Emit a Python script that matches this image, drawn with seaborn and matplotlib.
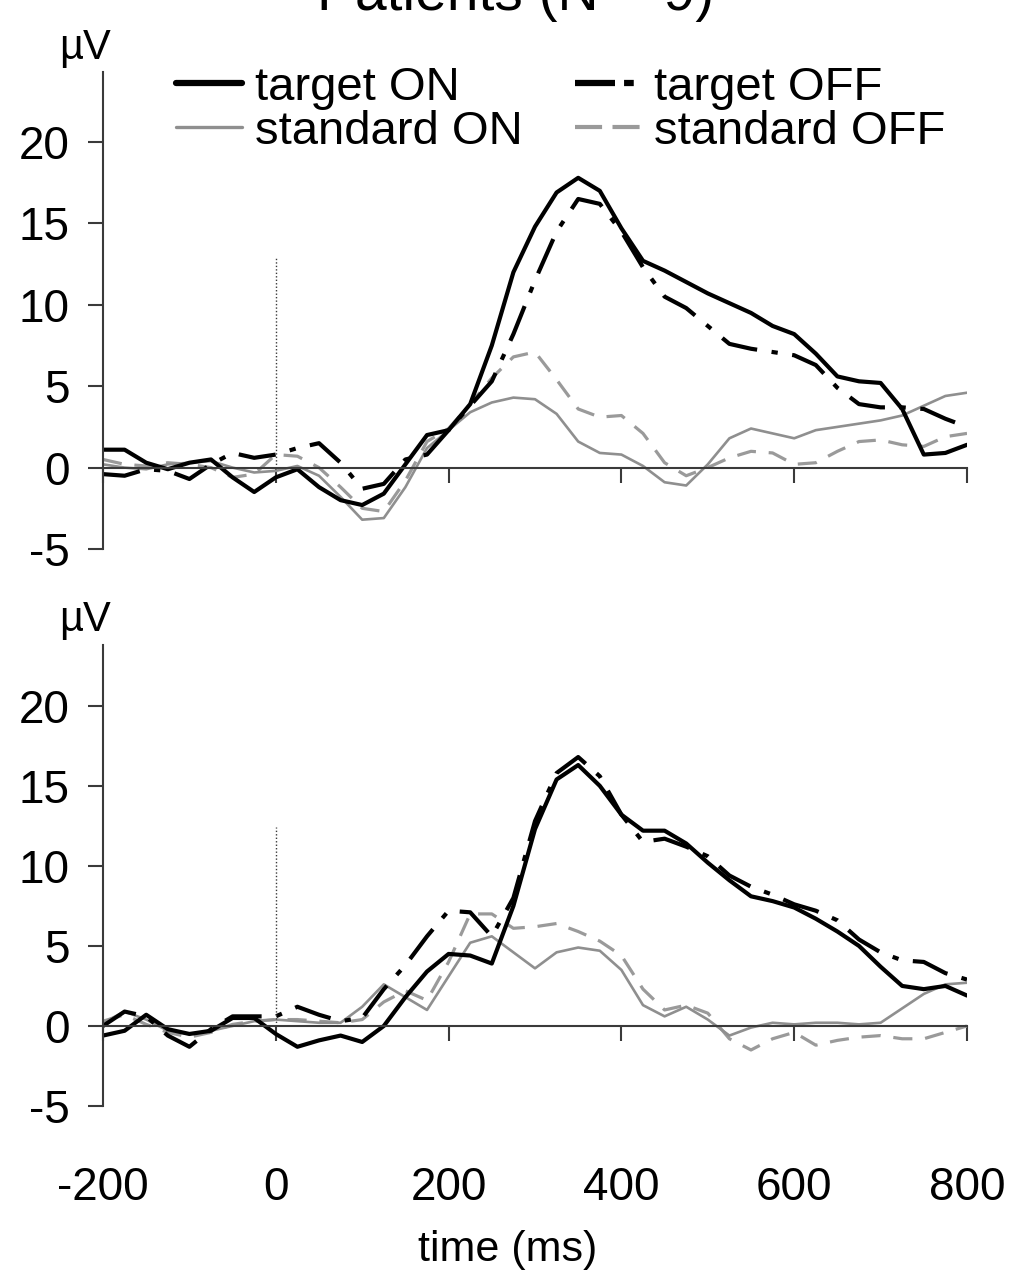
import numpy as np
import pandas as pd
import matplotlib
matplotlib.use("Agg")
import matplotlib.pyplot as plt
import seaborn as sns
from matplotlib.lines import Line2D

# ── Data (µV, every 25 ms) ─────────────────────────────────────
time_ms = np.arange(-200, 801, 25)

# upper panel
top_target_on = [1.1, 1.1, 0.3, -0.1, 0.3, 0.5, -0.6, -1.5, -0.6, -0.1,
                 -1.2, -2.0, -2.3, -1.6, 0.2, 2.0, 2.3, 3.9, 7.5, 12.0,
                 14.8, 16.9, 17.8, 17.0, 14.7, 12.7, 12.1, 11.4, 10.7, 10.1,
                 9.5, 8.7, 8.2, 7.0, 5.6, 5.3, 5.2, 3.6, 0.8, 0.9, 1.4]
top_target_off = [-0.4, -0.5, -0.1, -0.2, -0.7, 0.2, 0.9, 0.6, 0.8, 1.2,
                  1.5, 0.3, -1.3, -1.0, 0.5, 0.8, 2.3, 3.8, 5.3, 8.2,
                  11.5, 14.5, 16.5, 16.2, 14.5, 12.3, 10.5, 9.8, 8.7, 7.6,
                  7.3, 7.1, 6.9, 6.3, 4.9, 3.9, 3.7, 3.7, 3.6, 3.0, 2.5]
top_standard_on = [0.2, 0.0, -0.1, 0.2, 0.3, 0.4, 0.0, -0.3, -0.2, 0.1,
                   -0.5, -1.8, -3.2, -3.1, -1.2, 1.2, 2.3, 3.4, 4.0, 4.3,
                   4.2, 3.3, 1.6, 0.9, 0.8, 0.1, -0.9, -1.1, 0.2, 1.8,
                   2.4, 2.1, 1.8, 2.3, 2.5, 2.7, 2.9, 3.2, 3.8, 4.4, 4.6]
top_standard_off = [0.5, 0.2, 0.1, 0.3, 0.2, 0.0, -0.6, -0.4, 0.8, 0.7,
                    0.0, -1.2, -2.5, -2.7, -0.8, 1.6, 2.4, 3.9, 5.5, 6.8,
                    7.1, 5.4, 3.6, 3.1, 3.2, 2.1, 0.3, -0.5, 0.0, 0.6,
                    1.0, 0.9, 0.2, 0.3, 1.0, 1.6, 1.7, 1.4, 1.3, 1.9, 2.1]

# lower panel
bot_target_on = [-0.6, -0.3, 0.7, -0.2, -0.5, -0.3, 0.5, 0.5, -0.5, -1.3,
                 -0.9, -0.6, -1.0, 0.0, 1.8, 3.4, 4.5, 4.4, 3.9, 7.5,
                 12.3, 15.4, 16.3, 15.0, 13.2, 12.2, 12.2, 11.4, 10.2, 9.1,
                 8.1, 7.8, 7.4, 6.7, 5.9, 5.0, 3.7, 2.5, 2.3, 2.5, 1.9]
bot_target_off = [0.0, 0.9, 0.6, -0.6, -1.3, -0.2, 0.6, 0.6, 0.6, 1.2,
                  0.7, 0.3, 0.5, 2.3, 3.8, 5.6, 7.2, 7.1, 5.6, 8.0,
                  12.8, 15.8, 16.8, 15.6, 13.2, 11.5, 11.7, 11.2, 10.6, 9.4,
                  8.7, 8.2, 7.6, 7.2, 6.6, 5.4, 4.6, 4.1, 4.0, 3.3, 2.9]
bot_standard_on = [0.2, 0.9, 0.4, -0.3, -0.5, -0.3, 0.0, 0.3, 0.4, 0.3,
                   0.2, 0.2, 1.2, 2.6, 1.8, 1.0, 3.1, 5.2, 5.6, 4.6,
                   3.6, 4.6, 4.9, 4.7, 3.5, 1.3, 0.6, 1.2, 0.4, -0.6,
                   -0.1, 0.2, 0.1, 0.2, 0.2, 0.1, 0.2, 1.1, 2.0, 2.6, 2.7]
bot_standard_off = [0.3, 0.7, 0.1, -0.4, -0.7, -0.4, 0.1, 0.3, 0.4, 0.4,
                    0.3, 0.2, 0.4, 1.5, 2.2, 1.6, 4.0, 7.0, 7.0, 6.1,
                    6.2, 6.4, 5.9, 5.3, 4.4, 2.3, 1.0, 1.3, 0.8, -0.8,
                    -1.5, -0.8, -0.4, -1.2, -0.9, -0.7, -0.6, -0.8, -0.8, -0.4, 0.0]

conditions = ["target ON", "target OFF", "standard ON", "standard OFF"]
x_ticks = [-200, 0, 200, 400, 600, 800]
y_ticks = [-5, 0, 5, 10, 15, 20]

# ── Style ──────────────────────────────────────────────────────
sns.set_style("white")
plt.rcParams.update({
    "font.family": ["Liberation Sans", "DejaVu Sans"],
    "axes.unicode_minus": False,
    "text.color": "black",
    "xtick.labelcolor": "black",
    "ytick.labelcolor": "black",
    "lines.solid_joinstyle": "round",
    "lines.dash_joinstyle": "round",
})

AXIS_C = "#3a3a3a"
STYLES = {
    "target ON":    dict(color="black", lw=3.0, ls="-"),
    "target OFF":   dict(color="black", lw=3.0, ls=(0, (9, 3.5, 1.5, 3.5))),
    "standard ON":  dict(color="#8f8f8f", lw=1.9, ls="-"),
    "standard OFF": dict(color="#9a9a9a", lw=2.3, ls=(0, (6, 4))),
}
# legend handles are drawn a bit heavier, with their own dash patterns
LEG_STYLES = {
    "target ON":    dict(color="black", lw=4.5, ls="-"),
    "target OFF":   dict(color="black", lw=4.5, ls=(0, (6.4, 1.45, 1.55, 9))),
    "standard ON":  dict(color="#8f8f8f", lw=2.4, ls="-"),
    "standard OFF": dict(color="#9a9a9a", lw=3.0, ls=(0, (6.5, 2.5))),
}


def make_frame(series):
    rows = []
    for cond, vals in zip(conditions, series):
        rows.append(pd.DataFrame({"time": time_ms, "amp": vals, "condition": cond}))
    return pd.concat(rows, ignore_index=True)


def draw_panel(ax, df, ymax, dot_top):
    for cond in ["standard OFF", "standard ON", "target OFF", "target ON"]:
        st = STYLES[cond]
        sns.lineplot(data=df[df["condition"] == cond], x="time", y="amp",
                     ax=ax, color=st["color"], linewidth=st["lw"],
                     linestyle=st["ls"], errorbar=None, legend=False)
    ax.plot([0, 0], [0, dot_top], ls=(0, (1, 1.5)), color=AXIS_C, lw=1.0)

    ax.set_xlim(-200, 800)
    ax.set_ylim(-5, ymax)
    ax.set_xlabel("")
    ax.set_ylabel("")
    for s in ["top", "right"]:
        ax.spines[s].set_visible(False)
    ax.spines["bottom"].set_position(("data", 0))
    for s in ["bottom", "left"]:
        ax.spines[s].set_color(AXIS_C)
        ax.spines[s].set_linewidth(1.5)

    ax.set_xticks(x_ticks)
    ax.set_xticklabels([])
    ax.set_yticks(y_ticks)
    ax.set_yticklabels([str(v) for v in y_ticks])
    ax.tick_params(axis="x", direction="out", length=11, width=1.5,
                   color=AXIS_C, bottom=True)
    ax.tick_params(axis="y", direction="out", length=11, width=1.5,
                   color=AXIS_C, left=True, labelsize=33, pad=13)


fig = plt.figure(figsize=(10.18, 12.83), dpi=100)
W, H = 1018, 1283

ax1 = fig.add_axes([103 / W, 1 - 549 / H, 864 / W, (549 - 72) / H])
ax2 = fig.add_axes([103 / W, 1 - 1106 / H, 864 / W, (1106 - 645) / H])

draw_panel(ax1, make_frame([top_target_on, top_target_off,
                            top_standard_on, top_standard_off]), 24.3, 12.9)
draw_panel(ax2, make_frame([bot_target_on, bot_target_off,
                            bot_standard_on, bot_standard_off]), 23.8, 12.4)

# time tick labels sit well below the lower panel
sec = ax2.secondary_xaxis(-0.13)
sec.set_xticks(x_ticks)
sec.set_xticklabels([str(v) for v in x_ticks])
sec.tick_params(length=0, labelsize=33, pad=0)
sec.spines["bottom"].set_visible(False)

fig.text(508 / W, 1 - 1250 / H, "time (ms)", ha="center", va="center", fontsize=31)
fig.text(85 / W, 1 - 48 / H, "µV", ha="center", va="center", fontsize=30)
fig.text(85 / W, 1 - 620 / H, "µV", ha="center", va="center", fontsize=30)
fig.text(516 / W, 1 - 10 / H, "Patients (N = 9)", ha="center", va="baseline",
         fontsize=41)

handles = [Line2D([], [], color=LEG_STYLES[c]["color"], lw=LEG_STYLES[c]["lw"],
                  ls=LEG_STYLES[c]["ls"]) for c in conditions]
order = [0, 2, 1, 3]
fig.legend([handles[i] for i in order], [conditions[i] for i in order],
           loc="upper left", bbox_to_anchor=(176 / W, 1 - 66 / H), ncol=2,
           frameon=False, fontsize=34, handlelength=1.4, handletextpad=0.28,
           columnspacing=1.1, labelspacing=0.0, borderpad=0, borderaxespad=0)

fig.savefig("out.png", dpi=100)
